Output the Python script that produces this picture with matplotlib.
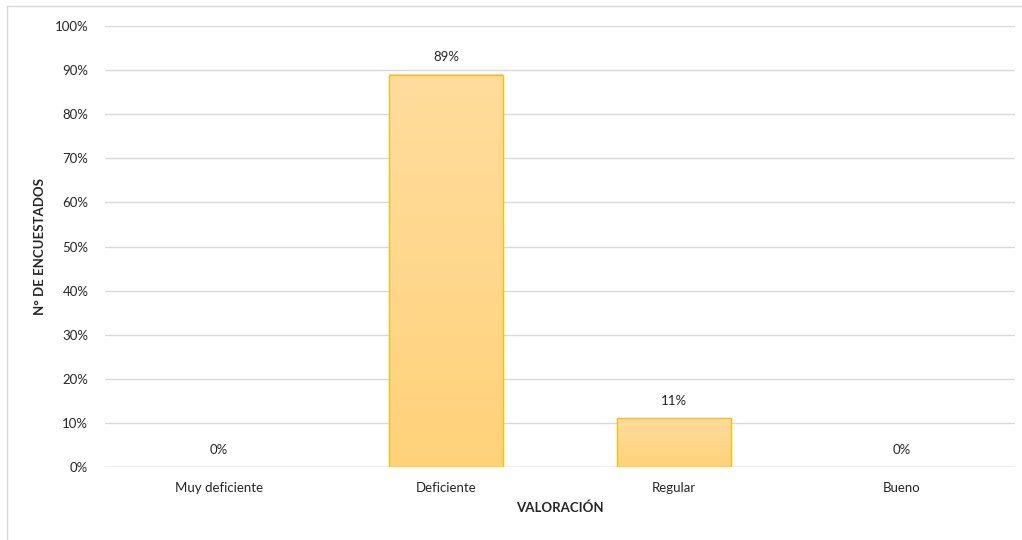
import numpy as np
import matplotlib.pyplot as plt
from matplotlib.lines import Line2D
from matplotlib.colors import LinearSegmentedColormap

categorias = ['Muy deficiente', 'Deficiente', 'Regular', 'Bueno']
porcentajes = [0, 89, 11, 0]
etiquetas = ['0%', '89%', '11%', '0%']

plt.rcParams['font.family'] = ['Lato', 'DejaVu Sans']

fig = plt.figure(figsize=(10.22, 5.40), dpi=100)
ax = fig.add_axes([105 / 1022, 1 - 467 / 540, 910 / 1022, 441 / 540])

x = np.arange(len(categorias))
# barras de altura cero sin borde (como en Excel)
bordes = ['#FFC000' if v > 0 else 'none' for v in porcentajes]
barras = ax.bar(x, porcentajes, width=0.5, color='none', edgecolor=bordes,
                linewidth=1.0, zorder=3)

# degradado vertical dentro de cada barra
grad = np.linspace(0, 1, 256).reshape(-1, 1)
cmap = LinearSegmentedColormap.from_list('amarillo', ['#FFD27A', '#FFDC9E'])
for b in barras:
    h = b.get_height()
    if h <= 0:
        continue
    x0 = b.get_x()
    w = b.get_width()
    ax.imshow(grad, cmap=cmap, extent=(x0, x0 + w, 0, h), origin='lower',
              aspect='auto', zorder=2)

for xi, v, t in zip(x, porcentajes, etiquetas):
    ax.text(xi, v + 2.6, t, ha='center', va='bottom', fontsize=9.5, color='#262626')

ax.set_xlim(-0.5, 3.5)
ax.set_ylim(0, 100)
ax.set_yticks(np.arange(0, 101, 10))
ax.set_yticklabels([f'{v}%' for v in range(0, 101, 10)], fontsize=9.5, color='#262626')
ax.set_xticks(x)
ax.set_xticklabels(categorias, fontsize=9.5, color='#262626')
ax.tick_params(axis='y', length=0, pad=12)
ax.tick_params(axis='x', length=0, pad=11)
ax.grid(axis='y', color='#D9D9D9', linewidth=1.0, zorder=0)
for s in ax.spines.values():
    s.set_visible(False)
ax.axhline(0, color='#D9D9D9', linewidth=1.0, zorder=1)

ax.set_xlabel('VALORACIÓN', fontsize=9.5, fontweight='bold', color='#262626', labelpad=5)
ax.set_ylabel('N° DE ENCUESTADOS', fontsize=9.5, fontweight='bold', color='#262626', labelpad=6)

# borde exterior del grafico
fig.add_artist(Line2D([7 / 1022, 1], [1 - 6 / 540, 1 - 6 / 540], color='#D9D9D9', linewidth=1))
fig.add_artist(Line2D([7 / 1022, 7 / 1022], [0, 1 - 6 / 540], color='#D9D9D9', linewidth=1))

fig.savefig('out.png', dpi=100)
